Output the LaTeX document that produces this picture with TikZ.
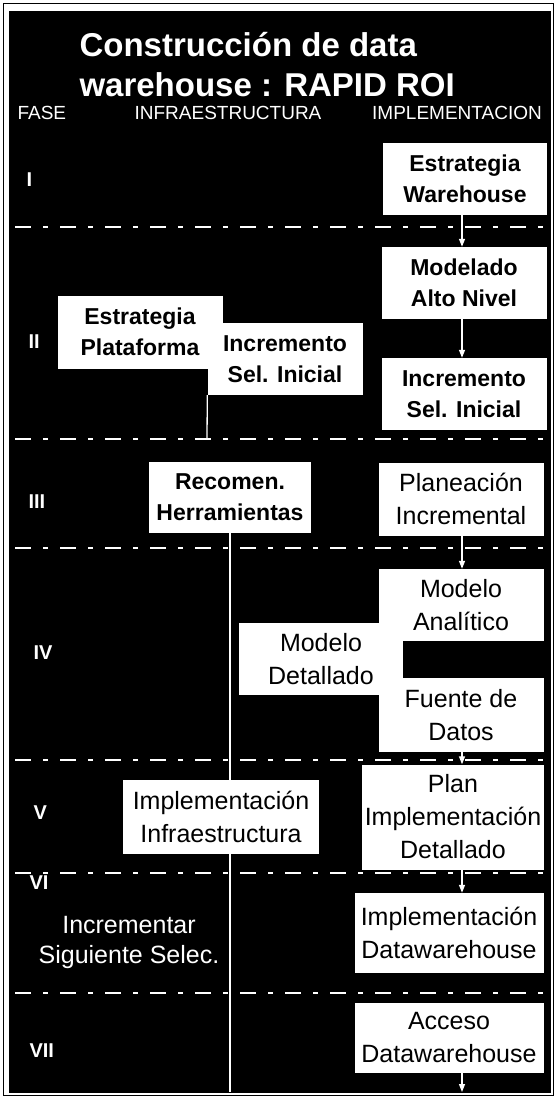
\documentclass[tikz,border=0pt]{standalone}
\usepackage{fontspec}
\setmainfont{Liberation Sans}
\usetikzlibrary{arrows.meta, positioning}

\pgfdeclarelayer{fondo}
\pgfdeclarelayer{lineas}
\pgfsetlayers{fondo,lineas,main}

\begin{document}
\begin{tikzpicture}[x=1pt,y=-1pt,>={Triangle[width=6pt,length=8pt]},
  caja/.style={fill=white,text=black,inner sep=0pt,align=center},
  cajab/.style={caja,font=\fontsize{23}{31}\selectfont\bfseries},
  cajar/.style={caja,font=\fontsize{25}{33}\selectfont},
  fase/.style={white,anchor=west,font=\fontsize{20}{20}\selectfont\bfseries},
  cabeza/.style={white,font=\fontsize{19}{19}\selectfont},
  corte/.style={white,line width=1.5pt,dash pattern=on 16pt off 12pt on 5pt off 12pt},
  linea/.style={white,line width=1.3pt},
  flecha/.style={linea,->}]
  \useasboundingbox (0,0) rectangle (555,1098);
  % page and black panel
  \begin{pgfonlayer}{fondo}
    \fill[white] (0,0) rectangle (555,1098);
    \draw[black,line width=1pt] (3,3) rectangle (553,1095);
    \fill[black] (9,11) rectangle (551,1093);
  \end{pgfonlayer}
  % title and column heads
  \node[white,anchor=west,align=left,font=\fontsize{33}{40}\selectfont\bfseries]
    (titulo) at (76,65) {Construcción de data\\warehouse : RAPID ROI};
  \node[cabeza,anchor=west] (hfase) at (14,113) {FASE};
  \node[cabeza] (hinfra) at (228,113) {INFRAESTRUCTURA};
  \node[cabeza] (himpl) at (457,113) {IMPLEMENTACION};
  % phases
  \node[fase] (f1) at (23,180) {I};
  \node[fase] (f2) at (25,342) {II};
  \node[fase] (f3) at (25,502) {III};
  \node[fase] (f4) at (30,653) {IV};
  \node[fase] (f5) at (30,813) {V};
  \node[fase] (f6) at (26,883) {VI};
  \node[fase] (f7) at (26,1051) {VII};
  % phase I-II
  \node[cajab,minimum width=164pt,minimum height=72pt] (estwh) at (465,179) {Estrategia\\Warehouse};
  \node[cajab,minimum width=165pt,minimum height=72pt] (modelado) at (464,283) {Modelado\\Alto Nivel};
  \node[cajab,minimum width=165pt,minimum height=72pt] (incder) at (464,394) {Incremento\\Sel. Inicial};
  \node[cajab,minimum width=165pt,minimum height=73pt] (plataforma) at (140,332) {Estrategia\\Plataforma};
  \node[cajab,minimum width=155pt,minimum height=72pt] (incmed) at (285,359) {Incremento\\Sel. Inicial};
  % phase III
  \node[cajab,minimum width=162pt,minimum height=71pt] (recomen) at (230,497) {Recomen.\\Herramientas};
  \node[cajar,minimum width=165pt,minimum height=73pt] (planeacion) at (461,499) {Planeación\\Incremental};
  % phase IV
  \node[cajar,minimum width=164pt,minimum height=72pt] (detallado) at (321,659) {Modelo\\Detallado};
  \node[cajar,minimum width=165pt,minimum height=72pt] (analitico) at (461,605) {Modelo\\Analítico};
  \node[cajar,minimum width=165pt,minimum height=74pt] (fuente) at (461,715) {Fuente de\\Datos};
  % phase V-VII
  \node[cajar,minimum width=182pt,minimum height=105pt] (plan) at (453,817) {Plan\\Implementación\\Detallado};
  \node[cajar,minimum width=196pt,minimum height=74pt] (infra) at (221,817) {Implementación\\Infraestructura};
  \node[white,align=center,font=\fontsize{25}{30}\selectfont] (siguiente) at (129,942) {Incrementar\\Siguiente Selec.};
  \node[cajar,minimum width=189pt,minimum height=80pt] (impdw) at (449,933) {Implementación\\Datawarehouse};
  \node[cajar,minimum width=189pt,minimum height=70pt] (acceso) at (449,1038) {Acceso\\Datawarehouse};
  % connectors (drawn under the boxes)
  \coordinate (eje) at (462,0);
  \coordinate (finII) at (207,439);
  \coordinate (abajo) at (230,1092);
  \begin{pgfonlayer}{lineas}
    \foreach \y in {227,439,548,760,873,993}
      \draw[corte] (15,\y) -- (551,\y);
    \draw[linea] (incmed.south west) -- (finII);
    \draw[linea] (recomen.south) -- (abajo);
    \draw[flecha] (estwh.south -| eje) -- (modelado.north -| eje);
    \draw[flecha] (modelado.south -| eje) -- (incder.north -| eje);
    \draw[flecha] (planeacion.south -| eje) -- (analitico.north -| eje);
    \draw[flecha] (fuente.south -| eje) -- (plan.north -| eje);
    \draw[flecha] (plan.south -| eje) -- (impdw.north -| eje);
    \draw[flecha] (acceso.south -| eje) -- (eje |- abajo);
  \end{pgfonlayer}
\end{tikzpicture}
\end{document}
